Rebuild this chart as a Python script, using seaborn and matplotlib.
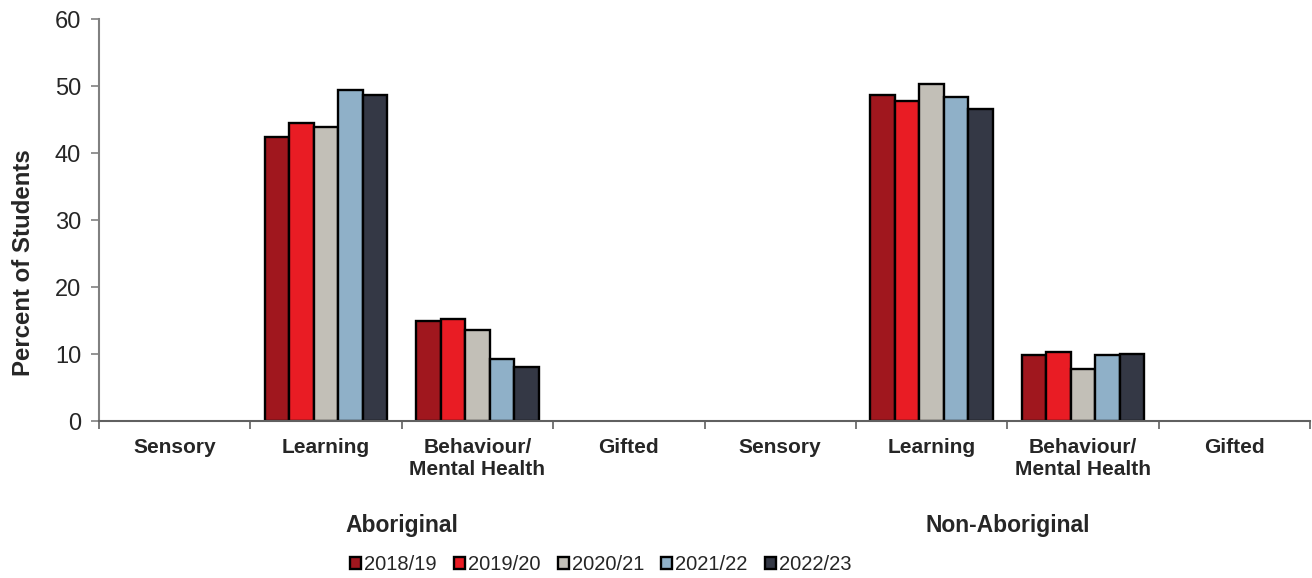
import pandas as pd
import numpy as np
import matplotlib.pyplot as plt
import seaborn as sns

# Dados (percentual de estudantes)
anos = ['2018/19', '2019/20', '2020/21', '2021/22', '2022/23']
cores = ['#A0171E', '#E91C24', '#C2BFB7', '#8FB0C8', '#343845']
grupos = ['Aboriginal', 'Non-Aboriginal']
categorias = ['Sensory', 'Learning', 'Behaviour/\nMental Health', 'Gifted']

abor_learning = [42.4, 44.5, 43.9, 49.4, 48.6]
abor_behaviour = [15.0, 15.3, 13.6, 9.2, 8.0]
nonab_learning = [48.6, 47.7, 50.3, 48.3, 46.5]
nonab_behaviour = [9.8, 10.3, 7.7, 9.8, 10.0]

sns.set_style("white")
plt.rcParams['font.family'] = ['Liberation Sans', 'DejaVu Sans']

# Montagem do dataframe longo
linhas = []
series = {
    ('Aboriginal', 'Learning'): abor_learning,
    ('Aboriginal', 'Behaviour/\nMental Health'): abor_behaviour,
    ('Non-Aboriginal', 'Learning'): nonab_learning,
    ('Non-Aboriginal', 'Behaviour/\nMental Health'): nonab_behaviour,
}
for (g, c), vals in series.items():
    for ano, v in zip(anos, vals):
        linhas.append({'chave': f'{g}|{c}', 'ano': ano, 'valor': v})
dados = pd.DataFrame(linhas)

ordem = [f'{g}|{c}' for g in grupos for c in categorias]

fig = plt.figure(figsize=(13.12, 5.78), dpi=100)
ax = fig.add_axes([0.0755, 0.2716, 0.923, 0.6955])

sns.barplot(data=dados, x='chave', y='valor', hue='ano', order=ordem, hue_order=anos,
            palette=cores, saturation=1, width=0.81, edgecolor='black', linewidth=1.7, ax=ax)

ax.set_xlim(-0.5, len(ordem) - 0.5)
ax.set_ylim(0, 60)
ax.set_yticks(range(0, 61, 10))
ax.tick_params(axis='y', labelsize=17, length=6, width=1.2, color='#808080', left=True, pad=7)
ax.set_xticks(range(len(ordem)))
ax.set_xticklabels([o.split('|')[1] for o in ordem], fontsize=15, fontweight='bold',
                   linespacing=1.25)
ax.tick_params(axis='x', length=0, pad=12)
ax.set_xticks(np.arange(-0.5, len(ordem), 1), minor=True)
ax.tick_params(axis='x', which='minor', length=6, width=1.2, color='#606060', bottom=True)

for lado in ['top', 'right']:
    ax.spines[lado].set_visible(False)
ax.spines['left'].set_color('#808080')
ax.spines['left'].set_linewidth(1.5)
ax.spines['bottom'].set_color('#606060')
ax.spines['bottom'].set_linewidth(1.5)

ax.set_xlabel('')
ax.set_ylabel('Percent of Students', fontsize=17.3, fontweight='bold')
ax.yaxis.set_label_coords(-0.053, 0.393)

# Rótulos dos grupos
trans = ax.get_xaxis_transform()
for i, g in enumerate(grupos):
    ax.text(i * 4 + 1.5, -0.259, g, transform=trans, ha='center', va='center',
            fontsize=16.5, fontweight='bold')

ax.legend(loc='center', bbox_to_anchor=(0.458, 0.0225), bbox_transform=fig.transFigure,
          ncol=5, frameon=False, fontsize=14.5, handlelength=0.55, handleheight=0.55,
          handletextpad=0.15, columnspacing=0.85, borderpad=0)

fig.savefig('out.png', dpi=100)
